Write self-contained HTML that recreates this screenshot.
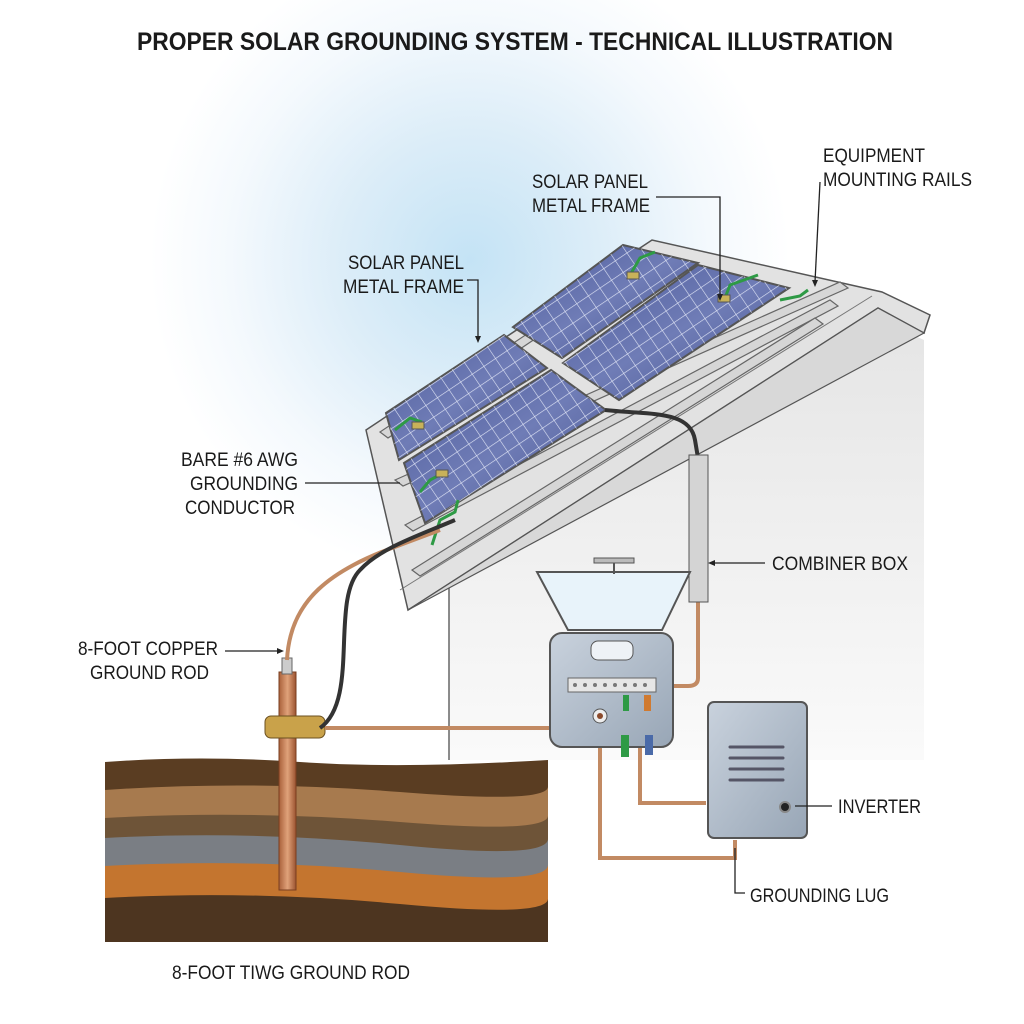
<!DOCTYPE html>
<html><head><meta charset="utf-8"><style>
html,body{margin:0;padding:0;background:#fff;}
svg{display:block;}
text{font-family:"Liberation Sans",sans-serif;fill:#1a1a1a;}
</style></head><body>
<svg width="1024" height="1024" viewBox="0 0 1024 1024" xmlns="http://www.w3.org/2000/svg">
<defs>
<radialGradient id="sky" cx="470" cy="260" r="320" gradientUnits="userSpaceOnUse">
<stop offset="0" stop-color="#c4e3f5"/><stop offset="0.4" stop-color="#dcedf8"/><stop offset="0.75" stop-color="#f4f9fd"/><stop offset="1" stop-color="#ffffff"/></radialGradient>
<linearGradient id="wall" x1="0" y1="300" x2="0" y2="760" gradientUnits="userSpaceOnUse">
<stop offset="0" stop-color="#e4e4e4"/><stop offset="1" stop-color="#fafafa"/></linearGradient>
<linearGradient id="pan" x1="0" y1="0" x2="1" y2="1">
<stop offset="0" stop-color="#4f5d9c"/><stop offset="0.5" stop-color="#6f7cb6"/><stop offset="1" stop-color="#46548f"/></linearGradient>
<pattern id="grid" width="14" height="14" patternUnits="userSpaceOnUse" patternTransform="rotate(-34)">
<rect width="14" height="14" fill="none"/><path d="M0 0H14M0 0V14" stroke="#dfe4f5" stroke-width="1.2"/></pattern>
<linearGradient id="box" x1="0" y1="0" x2="1" y2="1"><stop offset="0" stop-color="#c9d2dd"/><stop offset="1" stop-color="#98a6b6"/></linearGradient>
<linearGradient id="copper" x1="0" y1="0" x2="1" y2="0"><stop offset="0" stop-color="#a9603a"/><stop offset="0.5" stop-color="#e0a27a"/><stop offset="1" stop-color="#9b5330"/></linearGradient>
</defs>
<rect width="1024" height="1024" fill="#fff"/>
<rect x="100" y="0" width="760" height="560" fill="url(#sky)"/>
<text x="137" y="50" font-size="25" font-weight="bold" textLength="756" lengthAdjust="spacingAndGlyphs">PROPER SOLAR GROUNDING SYSTEM - TECHNICAL ILLUSTRATION</text>

<!-- wall -->
<polygon points="449,588 880,320 924,340 924,760 449,760" fill="url(#wall)"/>
<line x1="449" y1="588" x2="449" y2="760" stroke="#666" stroke-width="1.5"/>
<!-- roof -->
<polygon points="366,430 652,240 882,292 930,315 924,333 878,308 408,610" fill="#e2e2e2" stroke="#555" stroke-width="1.5"/>
<polygon points="408,610 878,308 924,333 449,588" fill="#d8d8d8" stroke="#555" stroke-width="1.2"/>
<line x1="400" y1="590" x2="872" y2="296" stroke="#777"/>
<!-- rails -->
<g stroke="#666" stroke-width="1.2" fill="#d6d6d6">
<polygon points="380,432 650,252 658,256 388,438"/>
<polygon points="395,480 840,282 848,288 403,486"/>
<polygon points="405,525 830,300 838,306 413,531"/>
<polygon points="412,570 815,318 823,324 420,576"/>
</g>
<!-- panels -->
<g stroke="#555" stroke-width="2">
<polygon points="513,327 623,245 698,263 562,358" fill="url(#pan)"/>
<polygon points="563,363 698,265 789,288 619,400" fill="url(#pan)"/>
<polygon points="386,413 504,335 547,368 399,460" fill="url(#pan)"/>
<polygon points="404,463 551,370 606,410 425,523" fill="url(#pan)"/>
</g>
<g fill="url(#grid)">
<polygon points="513,327 623,245 698,263 562,358"/>
<polygon points="563,363 698,265 789,288 619,400"/>
<polygon points="386,413 504,335 547,368 399,460"/>
<polygon points="404,463 551,370 606,410 425,523"/>
</g>
<g stroke="#2e9a45" stroke-width="3" fill="none">
<path d="M630 275 L640 258 L655 252"/><path d="M725 298 L730 285 L758 275"/>
<path d="M395 430 L410 418 L422 422"/><path d="M420 492 L430 480 L445 472"/>
<path d="M432 545 L440 520 L455 512 L458 500"/><path d="M780 300 L800 296 L808 290"/>
</g>
<g fill="#c8b25a" stroke="#555"><rect x="627" y="272" width="12" height="7"/><rect x="718" y="295" width="12" height="7"/><rect x="412" y="422" width="12" height="7"/><rect x="436" y="470" width="12" height="7"/></g>

<!-- soil -->
<g>
<path d="M105 762 Q200 755 300 762 T548 760 V942 H105Z" fill="#5a3d22"/>
<path d="M105 790 Q250 780 400 792 T548 786 V942 H105Z" fill="#a77a4e"/>
<path d="M105 818 Q250 810 400 822 T548 815 V942 H105Z" fill="#6e5438"/>
<path d="M105 838 Q250 830 400 845 T548 838 V942 H105Z" fill="#7a7e84"/>
<path d="M105 866 Q250 858 400 872 T548 864 V942 H105Z" fill="#c4752f"/>
<path d="M105 898 Q250 890 400 904 T548 898 V942 H105Z" fill="#4d3520"/>
</g>
<rect x="279" y="672" width="17" height="218" fill="url(#copper)" stroke="#7a3f20"/>
<rect x="282" y="658" width="10" height="16" fill="#ccc" stroke="#666"/>
<rect x="265" y="716" width="60" height="22" rx="6" fill="#c9a24a" stroke="#6b5020"/>
<path d="M287 660 C290 600 330 570 400 545 L440 530" stroke="#c28a63" stroke-width="4" fill="none"/>
<path d="M320 728 C360 700 330 600 360 570 C380 548 420 535 455 520" stroke="#333" stroke-width="4" fill="none"/>
<path d="M605 410 C650 415 690 410 695 440 L698 458" stroke="#333" stroke-width="4" fill="none"/>
<path d="M325 728 L550 728 C570 728 575 710 580 698" stroke="#c28a63" stroke-width="4" fill="none"/>
<path d="M698 600 V678 Q698 686 688 686 H673" stroke="#c28a63" stroke-width="4" fill="none"/>
<path d="M600 745 V858 H735 V840" stroke="#c28a63" stroke-width="4" fill="none"/>
<path d="M640 747 V803 H706" stroke="#c28a63" stroke-width="4" fill="none"/>
<rect x="689" y="455" width="19" height="147" fill="#d4d4d4" stroke="#555"/>
<!-- combiner box -->
<path d="M537 572 H690 L662 630 H568 Z" fill="#e8f3fa" stroke="#555" stroke-width="2"/>
<rect x="594" y="558" width="40" height="5" fill="#bbb" stroke="#555"/>
<line x1="614" y1="563" x2="614" y2="574" stroke="#555" stroke-width="2"/>
<rect x="550" y="633" width="123" height="114" rx="12" fill="url(#box)" stroke="#555" stroke-width="2"/>
<rect x="591" y="641" width="42" height="19" rx="7" fill="#eef2f6" stroke="#555"/>
<rect x="568" y="678" width="88" height="14" fill="#e6e6e6" stroke="#666"/>
<g fill="#777"><circle cx="575" cy="685" r="2"/><circle cx="585" cy="685" r="2"/><circle cx="595" cy="685" r="2"/><circle cx="605" cy="685" r="2"/><circle cx="615" cy="685" r="2"/><circle cx="625" cy="685" r="2"/><circle cx="635" cy="685" r="2"/><circle cx="645" cy="685" r="2"/></g>
<circle cx="600" cy="716" r="7" fill="#eee" stroke="#555"/><circle cx="600" cy="716" r="3" fill="#8b4a2b"/>
<rect x="623" y="695" width="6" height="16" fill="#2e9a45"/><rect x="621" y="735" width="8" height="22" fill="#2e9a45"/>
<rect x="644" y="695" width="7" height="16" fill="#d07a30"/><rect x="645" y="735" width="8" height="20" fill="#4a6aa8"/>
<!-- inverter -->
<rect x="708" y="702" width="99" height="136" rx="6" fill="url(#box)" stroke="#555" stroke-width="2"/>
<g stroke="#556" stroke-width="3" stroke-linecap="round"><line x1="730" y1="747" x2="783" y2="747"/><line x1="730" y1="758" x2="783" y2="758"/><line x1="730" y1="769" x2="783" y2="769"/><line x1="730" y1="780" x2="783" y2="780"/></g>
<circle cx="785" cy="807" r="5" fill="#222" stroke="#888" stroke-width="2"/>

<!-- labels -->
<g font-size="19" lengthAdjust="spacingAndGlyphs">
<text x="348" y="269" textLength="116" lengthAdjust="spacingAndGlyphs">SOLAR PANEL</text><text x="343" y="293" textLength="121" lengthAdjust="spacingAndGlyphs">METAL FRAME</text>
<text x="532" y="188" textLength="116" lengthAdjust="spacingAndGlyphs">SOLAR PANEL</text><text x="532" y="212" textLength="118" lengthAdjust="spacingAndGlyphs">METAL FRAME</text>
<text x="823" y="162" textLength="102" lengthAdjust="spacingAndGlyphs">EQUIPMENT</text><text x="823" y="186" textLength="149" lengthAdjust="spacingAndGlyphs">MOUNTING RAILS</text>
<text x="181" y="466" textLength="117" lengthAdjust="spacingAndGlyphs">BARE #6 AWG</text><text x="190" y="490" textLength="108" lengthAdjust="spacingAndGlyphs">GROUNDING</text><text x="185" y="514" textLength="110" lengthAdjust="spacingAndGlyphs">CONDUCTOR</text>
<text x="78" y="655" textLength="140" lengthAdjust="spacingAndGlyphs">8-FOOT COPPER</text><text x="90" y="679" textLength="119" lengthAdjust="spacingAndGlyphs">GROUND ROD</text>
<text x="772" y="570" textLength="136" lengthAdjust="spacingAndGlyphs">COMBINER BOX</text>
<text x="838" y="813" textLength="83" lengthAdjust="spacingAndGlyphs">INVERTER</text>
<text x="750" y="902" textLength="139" lengthAdjust="spacingAndGlyphs">GROUNDING LUG</text>
<text x="172" y="979" textLength="238" lengthAdjust="spacingAndGlyphs">8-FOOT TIWG GROUND ROD</text>
</g>
<g stroke="#222" stroke-width="1.3" fill="none">
<path d="M467 280 H478 V338"/><path d="M656 197 H720 V296"/><path d="M820 182 L815 282"/>
<path d="M305 483 H400"/><path d="M225 651 H280"/><path d="M765 563 H712"/>
<path d="M795 806 H832"/><path d="M735 848 V893 H745"/>
</g>
<g fill="#222">
<path d="M478 343 l-3 -7 h6z"/><path d="M720 301 l-3 -7 h6z"/><path d="M815 287 l-3 -7 h6z"/>
<path d="M284 651 l-7 -3 v6z"/><path d="M708 563 l7 -3 v6z"/>
</g>
</svg>
</body></html>
